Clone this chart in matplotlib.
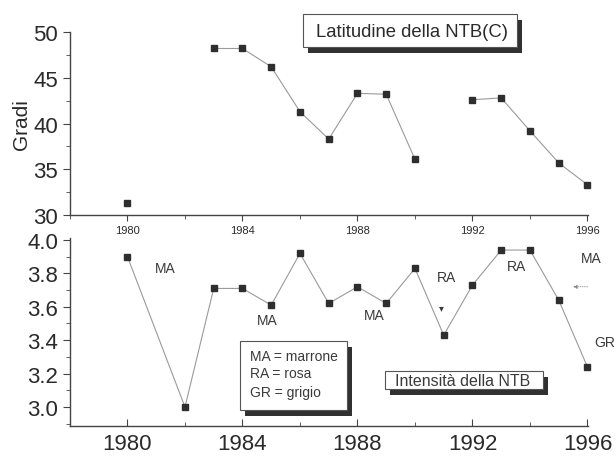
import matplotlib.pyplot as plt
import matplotlib.patheffects as pe
from matplotlib.patches import Rectangle
from matplotlib.ticker import MultipleLocator
import numpy as np

plt.rcParams['font.family'] = ['Liberation Sans', 'DejaVu Sans']

# latitudine NTB(C), gradi (NaN = nessun dato)
anni = np.arange(1980, 1997)
latitudine = [31.3, np.nan, np.nan, 48.2, 48.2, 46.2, 41.3, 38.3, 43.3, 43.2,
              36.1, np.nan, 42.6, 42.8, 39.2, 35.7, 33.3]
# intensita' NTB
anni_int = [1980, 1982, 1983, 1984, 1985, 1986, 1987, 1988, 1989, 1990,
            1991, 1992, 1993, 1994, 1995, 1996]
intensita = [3.90, 3.00, 3.71, 3.71, 3.61, 3.92, 3.62, 3.72, 3.62, 3.83,
             3.43, 3.73, 3.94, 3.94, 3.64, 3.24]

# etichette colore (testo, x, y)
etichette = [("MA", 1981.3, 3.835), ("MA", 1984.87, 3.52), ("MA", 1988.6, 3.55),
             ("RA", 1991.08, 3.78), ("RA", 1993.54, 3.845), ("MA", 1996.12, 3.89),
             ("GR", 1996.6, 3.39)]
legenda = ["MA = marrone", "RA = rosa", "GR = grigio"]

txt = '#2a2a2a'
linea = '#9a9a9a'
mark = '#2e2e2e'

fig = plt.figure(figsize=(6.16, 4.6), dpi=100)
ax1 = fig.add_axes([0.1136, 0.5304, 0.841, 0.3978])
ax2 = fig.add_axes([0.1136, 0.0717, 0.841, 0.4098])

for ax in (ax1, ax2):
    for s in ('top', 'right'):
        ax.spines[s].set_visible(False)
    for s in ('left', 'bottom'):
        ax.spines[s].set_color('#444444')
        ax.spines[s].set_linewidth(1.0)
    ax.set_xlim(1978, 1996.02)
    ax.xaxis.set_major_locator(MultipleLocator(4))
    ax.xaxis.set_minor_locator(MultipleLocator(2))
    ax.tick_params(axis='x', which='both', colors='#444444')
    ax.tick_params(axis='y', which='major', direction='out', length=5,
                   colors='#444444', labelsize=16, labelcolor=txt)
    ax.tick_params(axis='y', which='minor', direction='out', length=3, colors='#444444')


def riquadro(ax, x0, y0, x1, y1):
    r = Rectangle((x0, y0), x1 - x0, y1 - y0, fc='white', ec='#555555', lw=0.8,
                  clip_on=False, zorder=3)
    r.set_path_effects([pe.SimplePatchShadow(offset=(3.5, -4.5), shadow_rgbFace='#1a1a1a',
                                             alpha=0.9), pe.Normal()])
    ax.add_patch(r)


# pannello superiore
ax1.plot(anni, latitudine, color=linea, lw=0.8, marker='s', ms=5,
         mfc=mark, mec=mark, clip_on=False)
ax1.set_ylim(30, 50)
ax1.yaxis.set_major_locator(MultipleLocator(5))
ax1.yaxis.set_minor_locator(MultipleLocator(2.5))
ax1.tick_params(axis='x', which='both', direction='out')
ax1.tick_params(axis='x', which='major', length=4, labelsize=8, pad=3, labelcolor=txt)
ax1.tick_params(axis='x', which='minor', length=3)
ax1.set_ylabel("Gradi", fontsize=15, color=txt, labelpad=2)
riquadro(ax1, 1986.1, 48.36, 1993.55, 51.97)
ax1.text(1989.9, 50.05, "Latitudine della NTB(C)", fontsize=13.3, color=txt,
         ha='center', va='center', clip_on=False, zorder=4)

# pannello inferiore
ax2.plot(anni_int, intensita, color=linea, lw=0.8, marker='s', ms=5,
         mfc=mark, mec=mark, clip_on=False)
ax2.set_ylim(2.886, 4.015)
ax2.yaxis.set_major_locator(MultipleLocator(0.2))
ax2.yaxis.set_minor_locator(MultipleLocator(0.1))
ax2.yaxis.set_major_formatter(plt.FormatStrFormatter('%.1f'))
ax2.tick_params(axis='x', which='both', direction='in')
ax2.tick_params(axis='x', which='major', length=5, labelsize=16, pad=5, labelcolor=txt)
ax2.tick_params(axis='x', which='minor', length=3)

for lab, x, y in etichette:
    ax2.text(x, y, lab, fontsize=10, color='#3a3a3a', ha='center', va='center',
             clip_on=False)
ax2.text(1990.93, 3.60, "\u25be", fontsize=7, color='#3a3a3a', ha='center', va='center')
ax2.annotate("", xy=(1995.4, 3.72), xytext=(1996.1, 3.72),
             arrowprops=dict(arrowstyle='-|>', color='#888888', lw=0.6, ls=':',
                             mutation_scale=6))

riquadro(ax2, 1983.91, 2.982, 1987.63, 3.395)
for riga, y in zip(legenda, [3.305, 3.204, 3.09]):
    ax2.text(1984.26, y, riga, fontsize=10, color='#3a3a3a', ha='left', va='center',
             zorder=4)
riquadro(ax2, 1988.96, 3.108, 1994.45, 3.216)
ax2.text(1991.67, 3.158, "Intensità della NTB", fontsize=11.5, color='#3a3a3a',
         ha='center', va='center', zorder=4)

fig.savefig('out.png', dpi=100)
